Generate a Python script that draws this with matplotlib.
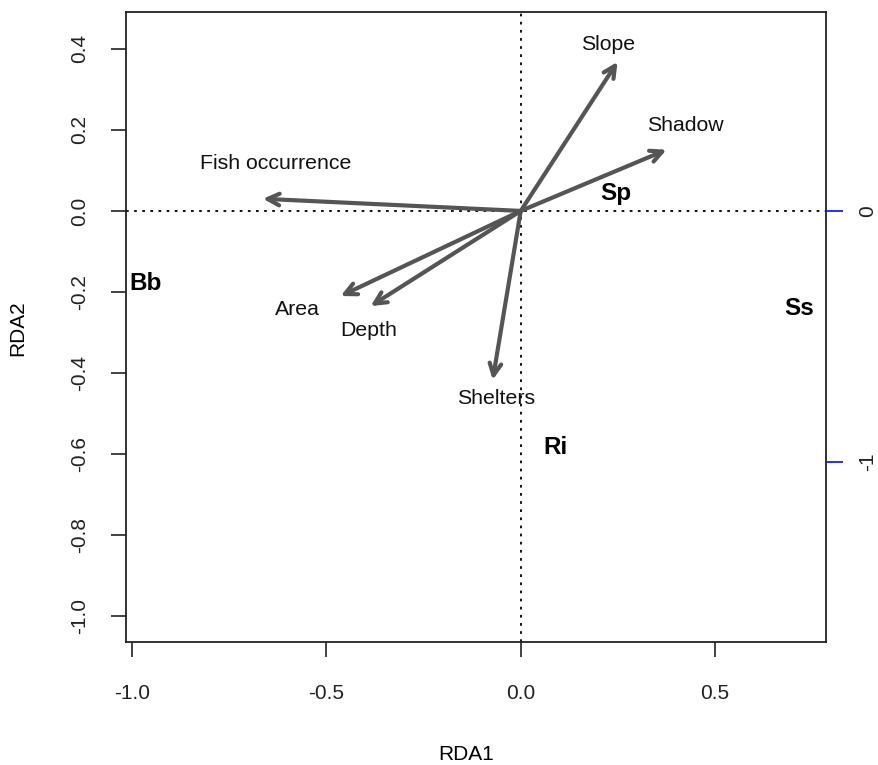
import matplotlib
matplotlib.use("Agg")
import matplotlib.pyplot as plt

plt.rcParams['font.family'] = ['Liberation Sans', 'DejaVu Sans']

# environmental variable arrows (RDA1, RDA2)
env_names = ["Slope", "Shadow", "Fish occurrence", "Area", "Depth", "Shelters"]
env_x = [0.249, 0.375, -0.663, -0.463, -0.386, -0.072]
env_y = [0.368, 0.151, 0.030, -0.210, -0.235, -0.417]
# where the arrow labels sit
lab_x = [0.226, 0.424, -0.630, -0.573, -0.391, -0.062]
lab_y = [0.410, 0.210, 0.116, -0.244, -0.294, -0.462]

# species scores
sp_names = ["Bb", "Sp", "Ss", "Ri"]
sp_x = [-0.964, 0.244, 0.717, 0.090]
sp_y = [-0.178, 0.044, -0.242, -0.583]

xticks = [-1.0, -0.5, 0.0, 0.5]
yticks = [0.4, 0.2, 0.0, -0.2, -0.4, -0.6, -0.8, -1.0]
right_ticks = [0, -1]

fig = plt.figure(figsize=(8.79, 7.65), dpi=100)
ax = fig.add_axes([126/879, 123/765, 700/879, 630/765])
ax.set_xlim(-1.015, 0.785)
ax.set_ylim(-1.064, 0.491)

ax.axhline(0, color='black', linestyle=(0, (1.5, 3)), lw=1.3)
ax.axvline(0, color='black', linestyle=(0, (1.5, 3)), lw=1.3)

arrow_col = '#555555'
for x, y in zip(env_x, env_y):
    ax.annotate('', xy=(x, y), xytext=(0, 0),
                arrowprops=dict(arrowstyle='->,head_length=0.85,head_width=0.42',
                                color=arrow_col, lw=3.0, shrinkA=0, shrinkB=0))
for name, x, y in zip(env_names, lab_x, lab_y):
    ax.text(x, y, name, ha='center', va='center', fontsize=15.3, color='#111111')

for name, x, y in zip(sp_names, sp_x, sp_y):
    ax.text(x, y, name, ha='center', va='center', fontsize=17.5, fontweight='bold')

ax.set_xticks(xticks)
ax.set_xticklabels([f"{t:.1f}" for t in xticks])
ax.set_yticks(yticks)
ax.set_yticklabels([f"{t:.1f}" for t in yticks], rotation=90, va='center')
ax.tick_params(axis='both', length=10.8, width=1.2, labelsize=15, colors='#222222')
ax.tick_params(axis='x', pad=19.5)
ax.tick_params(axis='y', pad=16)
for s in ax.spines.values():
    s.set_linewidth(1.3)
    s.set_color('#222222')

ax2 = ax.twinx()
ax2.set_ylim(-1.717, 0.793)
ax2.set_yticks(right_ticks)
ax2.set_yticklabels([str(t) for t in right_ticks], rotation=90, va='center')
ax2.tick_params(axis='y', length=12, width=1.3, color='#1a1aff', labelsize=15,
                labelcolor='#222222', pad=11)
for s in ax2.spines.values():
    s.set_visible(False)

fig.text(466/879, 1 - 754/765, "RDA1", ha='center', va='center', fontsize=15)
fig.text(18/879, 1 - 328/765, "RDA2", ha='center', va='center', fontsize=15, rotation=90)

fig.savefig("out.png", dpi=100)
